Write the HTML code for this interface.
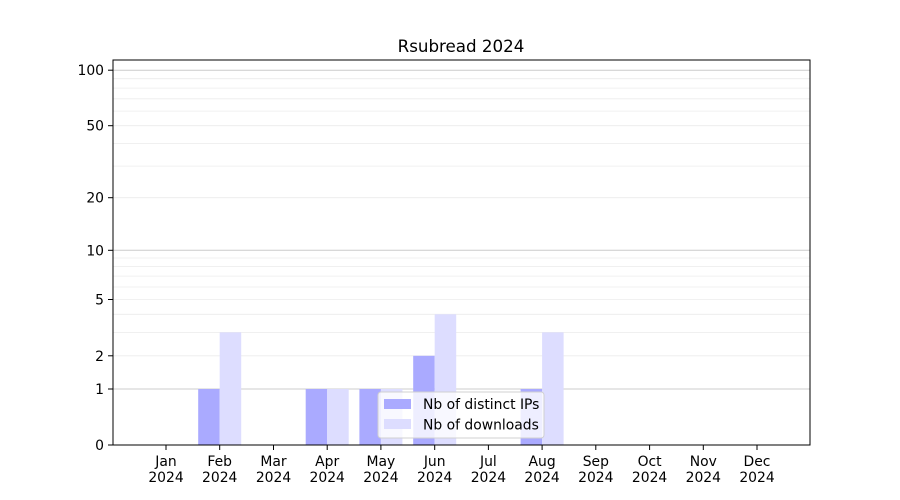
<!DOCTYPE html><html><head><style>body{margin:0;background:#fff}svg{display:block;font-family:"DejaVu Sans","Liberation Sans",sans-serif}</style></head><body>
<svg width="900" height="500" xmlns="http://www.w3.org/2000/svg">
<rect width="900" height="500" fill="#fff"/>
<g stroke="#ececec" stroke-width="0.8">
<line x1="113" x2="810" y1="355.8" y2="355.8"/><line x1="113" x2="810" y1="332.4" y2="332.4"/><line x1="113" x2="810" y1="314.3" y2="314.3"/><line x1="113" x2="810" y1="299.5" y2="299.5"/><line x1="113" x2="810" y1="287" y2="287"/><line x1="113" x2="810" y1="276.1" y2="276.1"/><line x1="113" x2="810" y1="266.6" y2="266.6"/><line x1="113" x2="810" y1="258" y2="258"/><line x1="113" x2="810" y1="197.7" y2="197.7"/><line x1="113" x2="810" y1="166.1" y2="166.1"/><line x1="113" x2="810" y1="143.4" y2="143.4"/><line x1="113" x2="810" y1="125.7" y2="125.7"/><line x1="113" x2="810" y1="111.1" y2="111.1"/><line x1="113" x2="810" y1="98.8" y2="98.8"/><line x1="113" x2="810" y1="88.1" y2="88.1"/><line x1="113" x2="810" y1="78.7" y2="78.7"/>
</g>
<g stroke="#cccccc" stroke-width="1"><line x1="113" x2="810" y1="389" y2="389"/><line x1="113" x2="810" y1="250.3" y2="250.3"/><line x1="113" x2="810" y1="70.2" y2="70.2"/></g>
<g fill="#aaaaff">
<rect x="198.2" y="389" width="21.5" height="56"/><rect x="305.7" y="389" width="21.5" height="56"/><rect x="359.4" y="389" width="21.5" height="56"/><rect x="413.2" y="355.8" width="21.5" height="89.2"/><rect x="520.6" y="389" width="21.5" height="56"/>
</g>
<g fill="#ddddff">
<rect x="219.7" y="332.4" width="21.5" height="112.6"/><rect x="327.2" y="389" width="21.5" height="56"/><rect x="380.9" y="389" width="21.5" height="56"/><rect x="434.7" y="314.3" width="21.5" height="130.7"/><rect x="542.1" y="332.4" width="21.5" height="112.6"/>
</g>
<rect x="113" y="60" width="697" height="385" fill="none" stroke="#000" stroke-width="1"/>
<g stroke="#000"><line x1="108" x2="113" y1="445" y2="445"/><line x1="108" x2="113" y1="389" y2="389"/><line x1="108" x2="113" y1="355.8" y2="355.8"/><line x1="108" x2="113" y1="299.5" y2="299.5"/><line x1="108" x2="113" y1="250.3" y2="250.3"/><line x1="108" x2="113" y1="197.7" y2="197.7"/><line x1="108" x2="113" y1="125.7" y2="125.7"/><line x1="108" x2="113" y1="70.2" y2="70.2"/></g>
<g font-size="13.9" text-anchor="end" fill="#000"><text x="104" y="450">0</text><text x="104" y="394">1</text><text x="104" y="361">2</text><text x="104" y="304.5">5</text><text x="104" y="255.5">10</text><text x="104" y="202.5">20</text><text x="104" y="130.5">50</text><text x="104" y="75">100</text></g>
<g stroke="#000"><line x1="166" x2="166" y1="445" y2="450"/><line x1="219.7" x2="219.7" y1="445" y2="450"/><line x1="273.5" x2="273.5" y1="445" y2="450"/><line x1="327.2" x2="327.2" y1="445" y2="450"/><line x1="380.9" x2="380.9" y1="445" y2="450"/><line x1="434.7" x2="434.7" y1="445" y2="450"/><line x1="488.4" x2="488.4" y1="445" y2="450"/><line x1="542.1" x2="542.1" y1="445" y2="450"/><line x1="595.8" x2="595.8" y1="445" y2="450"/><line x1="649.6" x2="649.6" y1="445" y2="450"/><line x1="703.3" x2="703.3" y1="445" y2="450"/><line x1="757" x2="757" y1="445" y2="450"/></g>
<g font-size="13.9" text-anchor="middle" fill="#000">
<text x="166" y="466">Jan</text><text x="166" y="482">2024</text>
<text x="219.7" y="466">Feb</text><text x="219.7" y="482">2024</text>
<text x="273.5" y="466">Mar</text><text x="273.5" y="482">2024</text>
<text x="327.2" y="466">Apr</text><text x="327.2" y="482">2024</text>
<text x="380.9" y="466">May</text><text x="380.9" y="482">2024</text>
<text x="434.7" y="466">Jun</text><text x="434.7" y="482">2024</text>
<text x="488.4" y="466">Jul</text><text x="488.4" y="482">2024</text>
<text x="542.1" y="466">Aug</text><text x="542.1" y="482">2024</text>
<text x="595.8" y="466">Sep</text><text x="595.8" y="482">2024</text>
<text x="649.6" y="466">Oct</text><text x="649.6" y="482">2024</text>
<text x="703.3" y="466">Nov</text><text x="703.3" y="482">2024</text>
<text x="757" y="466">Dec</text><text x="757" y="482">2024</text>
</g>
<text x="461" y="52" font-size="16.7" text-anchor="middle">Rsubread 2024</text>
<rect x="378" y="392" width="166" height="46" rx="3" fill="#fff" fill-opacity="0.8" stroke="#d0d0d0"/>
<rect x="384" y="399" width="27" height="10" fill="#aaaaff"/>
<rect x="384" y="419" width="27" height="10" fill="#ddddff"/>
<text x="423" y="409" font-size="13.9">Nb of distinct IPs</text>
<text x="423" y="429.5" font-size="13.9">Nb of downloads</text>
</svg></body></html>
